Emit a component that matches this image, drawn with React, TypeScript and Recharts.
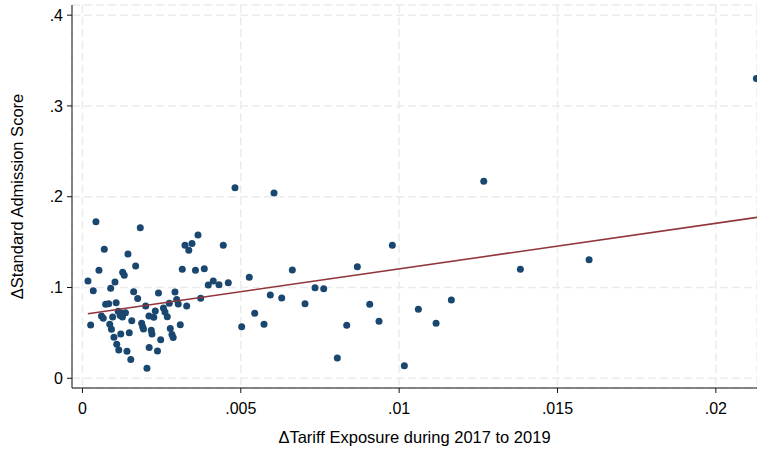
import { ScatterChart, Scatter, XAxis, YAxis, CartesianGrid } from 'recharts';

// tariff exposure change (x) and admission score change (y)
const exposure = [
    0.000426, 0.001826, 0.000689, 0.001437, 0.000521, 0.00127, 0.00132, 0.00168, 0.000174, 0.000341,
    0.001027, 0.000891, 0.001617, 0.001744, 0.0024, 0.002922, 0.002975, 0.003026, 0.002742, 0.002558,
    0.002606, 0.002678, 0.003291, 0.003089, 0.002773, 0.002827, 0.002865, 0.00247, 0.002369, 0.002107,
    0.002037, 0.002173, 0.002195, 0.0023, 0.002252, 0.0021, 0.001996, 0.00187, 0.001901, 0.001927,
    0.001557, 0.001478, 0.001406, 0.001526, 0.00121, 0.001147, 0.001083, 0.000995, 0.000916, 0.000862,
    0.000954, 0.0006, 0.000657, 0.000259, 0.000733, 0.000828, 0.001064, 0.001128, 0.001226, 0.001263,
    0.001358, 0.001191, 0.003152, 0.003238, 0.003358, 0.003459, 0.003648, 0.003569, 0.003847, 0.003733,
    0.003973, 0.004131, 0.004311, 0.004605, 0.004447, 0.004817, 0.005028, 0.005268, 0.005439, 0.005733,
    0.005932, 0.006049, 0.006292, 0.006627, 0.007028, 0.007344, 0.007618, 0.008048, 0.008345, 0.00868,
    0.009071, 0.009365, 0.009785, 0.010164, 0.010607, 0.011166, 0.011649, 0.012672, 0.013828, 0.015998,
    0.02128
];
const score = [
    0.1725, 0.1659, 0.1421, 0.1369, 0.1189, 0.1167, 0.1134, 0.1237, 0.1072, 0.0965,
    0.1061, 0.0991, 0.0954, 0.0879, 0.0939, 0.095, 0.0868, 0.0818, 0.0827, 0.0774,
    0.073, 0.0678, 0.0796, 0.059, 0.0548, 0.0482, 0.0449, 0.0425, 0.0301, 0.0339,
    0.0111, 0.0529, 0.0488, 0.0741, 0.0672, 0.0686, 0.0796, 0.0606, 0.0568, 0.0543,
    0.0633, 0.0502, 0.0298, 0.0207, 0.0488, 0.0312, 0.0376, 0.0452, 0.0541, 0.0596,
    0.0675, 0.0686, 0.0662, 0.0587, 0.0815, 0.0822, 0.0833, 0.0738, 0.0719, 0.0675,
    0.0721, 0.0692, 0.1202, 0.1465, 0.141, 0.1485, 0.1578, 0.1189, 0.1206, 0.0882,
    0.1028, 0.1072, 0.103, 0.1052, 0.1466, 0.2099, 0.0568, 0.1112, 0.0716, 0.0595,
    0.0917, 0.2041, 0.0884, 0.1193, 0.0822, 0.0998, 0.0987, 0.0224, 0.0584, 0.1229,
    0.0815, 0.0628, 0.1465, 0.0139, 0.076, 0.0606, 0.0862, 0.217, 0.12, 0.1306,
    0.3302
];

// linear fit endpoints
const fitExposure = [0.00017, 0.0213];
const fitScore = [0.0711, 0.1773];

const xTicks = [0, 0.005, 0.01, 0.015, 0.02];
const yTicks = [0, 0.1, 0.2, 0.3, 0.4];

const points = exposure.map((x, i) => ({ x, y: score[i] }));
const fit = fitExposure.map((x, i) => ({ x, y: fitScore[i] }));

// stata style labels: .005 instead of 0.005
const stataNum = (v: number) => (v === 0 ? '0' : String(v).replace(/^0/, ''));

const font = '"Liberation Sans", Arial, sans-serif';
const tickStyle = { fontFamily: font, fontSize: 16, fill: '#000' };

const Dot = (props: any) => <circle cx={props.cx} cy={props.cy} r={3.5} fill="#1a476f" />;

export default function App() {
    return (
        <div style={{ position: 'absolute', left: 0, top: 0, background: '#fff' }}>
            <ScatterChart width={757} height={452} margin={{ top: 5, right: 0, bottom: 0, left: 0 }}>
                <CartesianGrid stroke="#ececec" strokeWidth={1.5} strokeDasharray="8 4" />
                <XAxis
                    type="number"
                    dataKey="x"
                    domain={[-0.00033, 0.0213]}
                    allowDataOverflow
                    ticks={xTicks}
                    tickFormatter={stataNum}
                    height={64}
                    tickSize={5}
                    tickMargin={10}
                    stroke="#111"
                    tick={tickStyle}
                    label={{
                        value: '\u0394Tariff Exposure during 2017 to 2019',
                        position: 'insideBottom',
                        offset: 9,
                        style: { fontFamily: font, fontSize: 16.5, fill: '#000' }
                    }}
                />
                <YAxis
                    type="number"
                    dataKey="y"
                    domain={[-0.0107, 0.4112]}
                    allowDataOverflow
                    ticks={yTicks}
                    tickFormatter={stataNum}
                    width={72}
                    tickSize={5}
                    tickMargin={4}
                    stroke="#111"
                    tick={tickStyle}
                    label={{
                        value: '\u0394Standard Admission Score',
                        angle: -90,
                        position: 'insideLeft',
                        offset: 17,
                        style: { fontFamily: font, fontSize: 16.5, fill: '#000', textAnchor: 'middle' }
                    }}
                />
                <Scatter data={points} shape={Dot} isAnimationActive={false} />
                <Scatter
                    data={fit}
                    line={{ stroke: '#90353b', strokeWidth: 1.6 }}
                    shape={() => <g />}
                    isAnimationActive={false}
                />
            </ScatterChart>
        </div>
    );
}
